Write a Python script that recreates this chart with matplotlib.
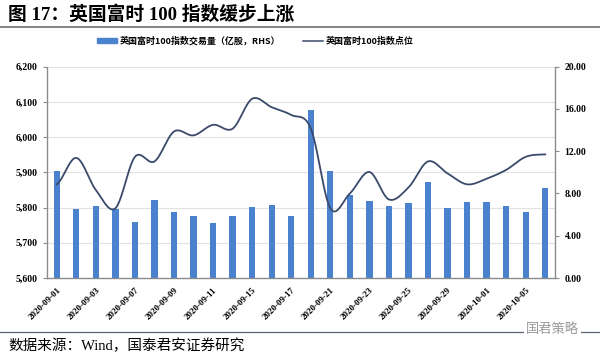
import matplotlib
matplotlib.use("Agg")
import matplotlib.pyplot as plt
import numpy as np
from matplotlib.lines import Line2D
from matplotlib.patches import Patch
from matplotlib.ticker import FuncFormatter

# trading days shown on the x axis
dates = [
    "2020-09-01", "2020-09-02", "2020-09-03", "2020-09-04", "2020-09-07",
    "2020-09-08", "2020-09-09", "2020-09-10", "2020-09-11", "2020-09-14",
    "2020-09-15", "2020-09-16", "2020-09-17", "2020-09-18", "2020-09-21",
    "2020-09-22", "2020-09-23", "2020-09-24", "2020-09-25", "2020-09-28",
    "2020-09-29", "2020-09-30", "2020-10-01", "2020-10-02", "2020-10-05",
    "2020-10-06",
]
# FTSE 100 index level (left axis)
index_level = [
    5866, 5941, 5850, 5798, 5944, 5931, 6016, 6005, 6035, 6024,
    6109, 6085, 6063, 6025, 5798, 5840, 5901, 5823, 5857, 5931,
    5897, 5866, 5882, 5907, 5944, 5951,
]
# traded volume, 100m shares (right axis)
volume = [
    10.1, 6.55, 6.8, 6.5, 5.3, 7.35, 6.27, 5.9, 5.2, 5.83,
    6.7, 6.87, 5.83, 15.86, 10.1, 7.84, 7.3, 6.82, 7.08, 9.04,
    6.67, 7.24, 7.2, 6.82, 6.22, 8.56,
]

BAR = "#4A82D0"
LINE = "#3B4A6B"
SPINE = "#8C8C8C"
GRID = "#E2E2E2"
NUM_FONT = ["Liberation Serif", "Noto Sans CJK SC"]
CJK_FONT = ["Noto Sans CJK SC", "DejaVu Sans"]


def smooth(ys, steps=24):
    # Catmull-Rom curve through the points, like a smoothed office chart line
    ys = np.asarray(ys, dtype=float)
    n = len(ys)
    xs_out, ys_out = [], []
    for i in range(n - 1):
        p0 = ys[max(i - 1, 0)]
        p1 = ys[i]
        p2 = ys[i + 1]
        p3 = ys[min(i + 2, n - 1)]
        t = np.linspace(0, 1, steps, endpoint=(i == n - 2))
        y = 0.5 * ((2 * p1) + (-p0 + p2) * t + (2 * p0 - 5 * p1 + 4 * p2 - p3) * t ** 2
                   + (-p0 + 3 * p1 - 3 * p2 + p3) * t ** 3)
        xs_out.append(i + t)
        ys_out.append(y)
    return np.concatenate(xs_out), np.concatenate(ys_out)


fig = plt.figure(figsize=(6.0, 3.55), dpi=100)
fig.patch.set_facecolor("white")

ax = fig.add_axes([47 / 600, 1 - 278 / 355, 508 / 600, 211.3 / 355])
ax2 = ax.twinx()
ax.set_zorder(ax2.get_zorder() + 1)
ax.patch.set_visible(False)
ax2.set_facecolor("#F8F8F8")

x = np.arange(len(dates))
ax2.bar(x, volume, width=0.32, color=BAR, zorder=3)
sx, sy = smooth(index_level)
ax.plot(sx, sy, color=LINE, linewidth=1.3, zorder=4)

ax.set_xlim(-0.5, len(dates) - 0.5)
ax.set_ylim(5600, 6200)
ax.set_yticks(np.arange(5600, 6201, 100))
ax.yaxis.set_major_formatter(FuncFormatter(lambda v, p: f"{v:,.0f}"))
ax2.set_ylim(0, 20)
ax2.set_yticks(np.arange(0, 20.01, 4))
ax2.yaxis.set_major_formatter(FuncFormatter(lambda v, p: f"{v:.2f}"))

# horizontal grid follows the left axis
for yv in np.arange(5700, 6201, 100):
    ax2.axhline((yv - 5600) / 600 * 20, color=GRID, linewidth=0.8, zorder=1)

ax.set_xticks(x[::2])
ax.set_xticklabels(dates[::2], rotation=45, ha="right", va="top",
                   rotation_mode="anchor", fontsize=6.5, fontweight="bold", family=NUM_FONT)
ax.tick_params(axis="x", length=0, pad=6)
for a in (ax, ax2):
    a.tick_params(axis="y", length=3, width=0.8, color=SPINE, labelsize=7, pad=4)
    for lbl in a.get_yticklabels():
        lbl.set_fontweight("bold")
        lbl.set_family(NUM_FONT)
    for sp in a.spines.values():
        sp.set_visible(False)
for side in ("left", "bottom"):
    ax.spines[side].set_visible(True)
    ax.spines[side].set_color(SPINE)
    ax.spines[side].set_linewidth(1.0)
ax2.spines["right"].set_visible(True)
ax2.spines["right"].set_color(SPINE)
ax2.spines["right"].set_linewidth(1.0)

# legend
handles = [
    Patch(facecolor=BAR, edgecolor=BAR),
    Line2D([0], [0], color=LINE, linewidth=1.1),
]
labels = ["英国富时100指数交易量（亿股，RHS）", "英国富时100指数点位"]
fig.legend(handles, labels, loc="center", bbox_to_anchor=(0.425, 1 - 41 / 355),
           ncol=2, frameon=False, prop={"family": CJK_FONT, "size": 6.5, "weight": "bold"},
           handlelength=2.2, handleheight=0.5, columnspacing=2.5, handletextpad=0.3)

# title and rules
fig.text(8 / 600, 1 - 15 / 355, "图 17：英国富时 100 指数缓步上涨", ha="left", va="center",
         fontsize=13.5, fontweight="bold", family=NUM_FONT)
fig.add_artist(Line2D([0, 1], [1 - 27 / 355] * 2, color="#6E6E6E", linewidth=1.2))
fig.add_artist(Line2D([0, 1], [1 - 332 / 355] * 2, color="#5E6478", linewidth=0.9))
fig.text(0.965, 1 - 330 / 355, "国君策略", ha="right", va="center", fontsize=9.5,
         color="#9A9A9A", family=CJK_FONT,
         bbox={"boxstyle": "square,pad=0.15", "facecolor": "white", "edgecolor": "none"})
fig.text(8 / 600, 1 - 346 / 355, "数据来源：Wind，国泰君安证券研究", ha="left", va="center",
         fontsize=10.5, family=NUM_FONT)

fig.savefig("out.png", dpi=100)
